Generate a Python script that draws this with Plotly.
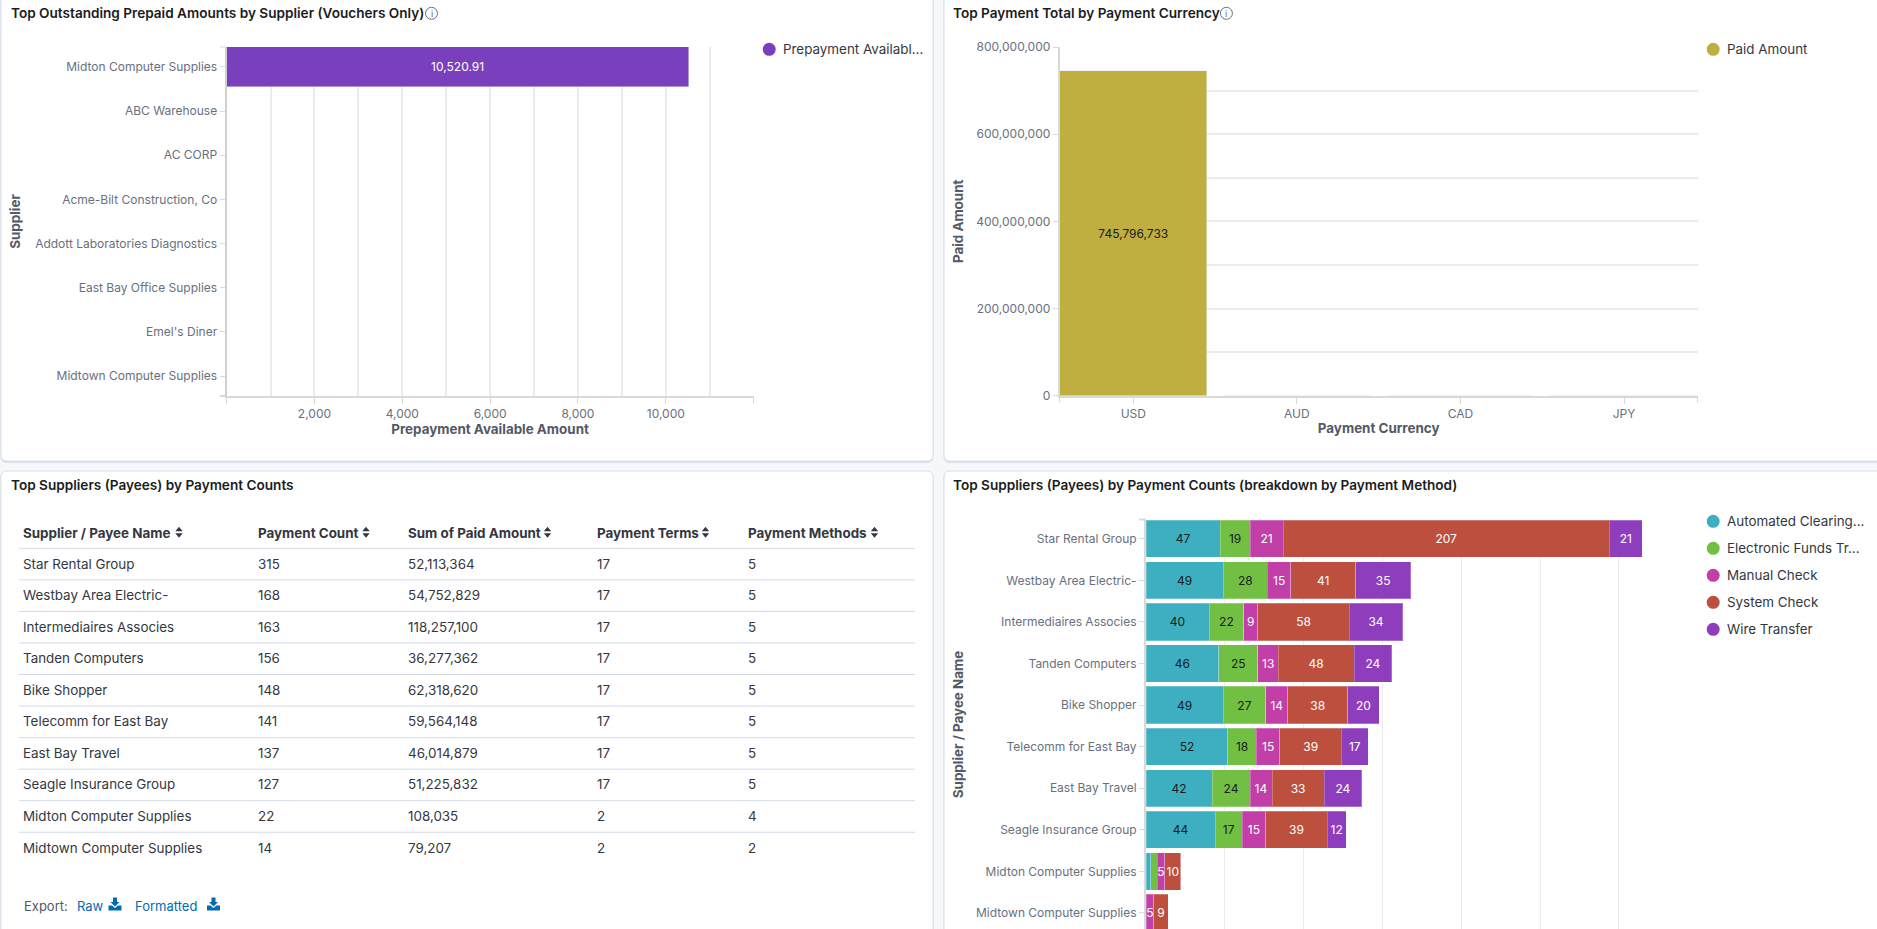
#%%
import plotly.graph_objects as go

W, H = 1877, 929
FONT = "Inter"
GRID = "#ebebeb"
AXIS = "#d9d9d9"
TICKTEXT = "#69707d"
DARK = "#1a1c21"
BLUE = "#006bb4"

#%%
# data
prepaid_suppliers = ["Midton Computer Supplies", "ABC Warehouse", "AC CORP", "Acme-Bilt Construction, Co",
                     "Addott Laboratories Diagnostics", "East Bay Office Supplies", "Emel's Diner",
                     "Midtown Computer Supplies"]
prepaid_amounts = [10520.91, 0, 0, 0, 0, 0, 0, 0]
prepaid_ticks = [0, 2000, 4000, 6000, 8000, 10000, 12000]
prepaid_ticktext = ["", "2,000", "4,000", "6,000", "8,000", "10,000", ""]

currencies = ["USD", "AUD", "CAD", "JPY"]
paid_amounts = [745796733, 0, 0, 0]
paid_ticks = [0, 200000000, 400000000, 600000000, 800000000]

payees = ["Star Rental Group", "Westbay Area Electric-", "Intermediaires Associes", "Tanden Computers",
          "Bike Shopper", "Telecomm for East Bay", "East Bay Travel", "Seagle Insurance Group",
          "Midton Computer Supplies", "Midtown Computer Supplies"]
payment_counts = [315, 168, 163, 156, 148, 141, 137, 127, 22, 14]
paid_sums = ["52,113,364", "54,752,829", "118,257,100", "36,277,362", "62,318,620", "59,564,148",
             "46,014,879", "51,225,832", "108,035", "79,207"]
payment_terms = [17, 17, 17, 17, 17, 17, 17, 17, 2, 2]
payment_method_counts = [5, 5, 5, 5, 5, 5, 5, 5, 4, 2]
table_headers = ["Supplier / Payee Name", "Payment Count", "Sum of Paid Amount", "Payment Terms", "Payment Methods"]

methods = ["Automated Clearing...", "Electronic Funds Tr...", "Manual Check", "System Check", "Wire Transfer"]
method_colors = ["#3eafc0", "#71c043", "#c13fa7", "#bd4f3e", "#8e3ebd"]
method_textcolors = [DARK, DARK, "white", "white", "white"]
ach = [47, 49, 40, 46, 49, 52, 42, 44, 3, 0]
eft = [19, 28, 22, 25, 27, 18, 24, 17, 4, 0]
manual = [21, 15, 9, 13, 14, 15, 14, 15, 5, 5]
system = [207, 41, 58, 48, 38, 39, 33, 39, 10, 9]
wire = [21, 35, 34, 24, 20, 17, 24, 12, 0, 0]
method_values = [ach, eft, manual, system, wire]

#%%
# pixel helpers, everything on the page is laid out from the top left
def fx(px):
    return px / W

def fy(px):
    return 1 - px / H

def xdomain(left, right):
    return [fx(left), fx(right)]

def ydomain(top, bottom):
    return [fy(bottom), fy(top)]

shapes = []
annotations = []

def line(x0, y0, x1, y1, color=AXIS, width=1, layer="below"):
    shapes.append(dict(type="line", xref="paper", yref="paper", x0=fx(x0), y0=fy(y0), x1=fx(x1), y1=fy(y1),
                       line=dict(color=color, width=width), layer=layer))

def poly(points, color):
    path = "M" + " L".join(f"{fx(a)},{fy(b)}" for a, b in points) + " Z"
    shapes.append(dict(type="path", xref="paper", yref="paper", path=path, fillcolor=color,
                       line=dict(width=0), layer="above"))

def label(text, x, y, size=13, color=DARK, weight=400, anchor="left"):
    annotations.append(dict(text=text, x=fx(x), y=fy(y), xref="paper", yref="paper", showarrow=False,
                            xanchor=anchor, yanchor="middle", borderpad=0,
                            font=dict(family=FONT, size=size, color=color, weight=weight)))

def card(x0, y0, x1, y1):
    r = 6 / W
    ry = 6 / H
    for off, fill, edge in [(1.5, "#dde1ea", "#dde1ea"), (0, "white", "#d8deea")]:
        a, b, c, d = fx(x0), fy(y0 + off), fx(x1), fy(y1 + off)
        path = (f"M{a + r},{b} L{c - r},{b} Q{c},{b} {c},{b - ry} L{c},{d + ry} Q{c},{d} {c - r},{d} "
                f"L{a + r},{d} Q{a},{d} {a},{d + ry} L{a},{b - ry} Q{a},{b} {a + r},{b} Z")
        shapes.append(dict(type="path", xref="paper", yref="paper", path=path, fillcolor=fill,
                           line=dict(color=edge, width=1), layer="below"))

def info_icon(x, y):
    shapes.append(dict(type="circle", xref="paper", yref="paper", x0=fx(x - 6), x1=fx(x + 6), y0=fy(y + 6),
                       y1=fy(y - 6), line=dict(color=TICKTEXT, width=1), layer="above"))
    label("i", x, y, size=9, color=TICKTEXT, anchor="center")

def legend_item(name, color, x, y):
    shapes.append(dict(type="circle", xref="paper", yref="paper", x0=fx(x - 6.5), x1=fx(x + 6.5), y0=fy(y + 6.5),
                       y1=fy(y - 6.5), fillcolor=color, line=dict(width=0), layer="above"))
    label(name, x + 13, y, size=13.4, color="#343741")

def sort_icon(x, y):
    poly([(x - 3.7, y - 1), (x + 3.7, y - 1), (x, y - 5.5)], "#343741")
    poly([(x - 3.7, y + 1), (x + 3.7, y + 1), (x, y + 5.5)], "#343741")

def download_icon(x, y):
    # arrow over a tray
    poly([(x - 2, y - 7), (x + 2, y - 7), (x + 2, y - 2.5), (x + 4.5, y - 2.5), (x, y + 2), (x - 4.5, y - 2.5),
          (x - 2, y - 2.5)], BLUE)
    poly([(x - 6.5, y + 1), (x - 3, y + 1), (x, y + 3.5), (x + 3, y + 1), (x + 6.5, y + 1), (x + 6.5, y + 6),
          (x - 6.5, y + 6)], BLUE)

card(1, -10, 933, 461)
card(944, -10, 1890, 461)
card(1, 471, 933, 960)
card(944, 471, 1890, 960)

label("Top Outstanding Prepaid Amounts by Supplier (Vouchers Only)", 9.5, 13.3, size=13.6, weight=600)
info_icon(431.5, 13.3)
label("Top Payment Total by Payment Currency", 952, 13.3, size=13.6, weight=600)
info_icon(1226.4, 13.3)
label("Top Suppliers (Payees) by Payment Counts", 9.5, 485.3, size=13.6, weight=600)
label("Top Suppliers (Payees) by Payment Counts (breakdown by Payment Method)", 952, 485.3, size=13.6, weight=600)

tick_font = dict(family=FONT, size=12, color=TICKTEXT)
title_font = dict(family=FONT, size=13.4, color="#535966", weight=700)

def axis(**kw):
    base = dict(tickfont=tick_font, ticks="outside", ticklen=6, tickcolor=AXIS, tickwidth=1, zeroline=False,
                showline=True, linecolor=AXIS, linewidth=2, automargin=False)
    base.update(kw)
    return base

fig = go.Figure()

#%%
# prepaid amounts
fig.add_trace(go.Bar(y=prepaid_suppliers, x=prepaid_amounts, orientation="h", width=0.905,
                     marker=dict(color="#7a3fbd"),
                     text=[f"{v:,.2f}" if v else "" for v in prepaid_amounts], textposition="inside",
                     insidetextanchor="middle", textangle=0, constraintext="none",
                     textfont=dict(family=FONT, size=12, color="white"), xaxis="x", yaxis="y", showlegend=False))
line(220, 47, 226.6, 47)
line(220, 396, 226.6, 396, width=2)
legend_item("Prepayment Availabl...", "#7a3fbd", 769.2, 49.3)

#%%
# paid amount by currency
fig.add_trace(go.Bar(x=currencies, y=paid_amounts, width=0.9, marker=dict(color="#bfae40"),
                     text=[f"{v:,}" if v else "" for v in paid_amounts], textposition="inside",
                     insidetextanchor="middle", textangle=0, constraintext="none",
                     textfont=dict(family=FONT, size=12, color=DARK), xaxis="x2", yaxis="y2", showlegend=False))
line(1059.7, 396, 1059.7, 403)
line(1697.6, 396, 1697.6, 403)
legend_item("Paid Amount", "#bfae40", 1713.2, 49.3)

#%%
# payment method breakdown
for name, vals, color, tcolor in zip(methods, method_values, method_colors, method_textcolors):
    fig.add_trace(go.Bar(y=payees, x=vals, name=name, orientation="h", width=0.896,
                         marker=dict(color=color, line=dict(color="rgba(255,255,255,0.25)", width=1)),
                         text=[str(v) if v >= 5 else "" for v in vals], textposition="inside",
                         insidetextanchor="middle", textangle=0, constraintext="none",
                         textfont=dict(family=FONT, size=12, color=tcolor), xaxis="x3", yaxis="y3",
                         showlegend=False))
line(1139, 519.5, 1146, 519.5, width=2)
for ii, name in enumerate(methods):
    legend_item(name, method_colors[ii], 1713.2, 521.3 + 27 * ii)

#%%
# table
row_h = 31.55
header_bottom = 548.3
fig.add_trace(go.Table(
    domain=dict(x=xdomain(15, 915), y=ydomain(516.5, 885)),
    columnwidth=[235, 150, 189, 151, 175],
    header=dict(values=[f"<b>{hh}</b>" for hh in table_headers], height=34, align="left",
                fill=dict(color="rgba(0,0,0,0)"), line=dict(width=0),
                font=dict(family=FONT, size=13.4, color="#343741")),
    cells=dict(values=[payees, payment_counts, paid_sums, payment_terms, payment_method_counts], height=row_h,
               align="left", fill=dict(color="rgba(0,0,0,0)"), line=dict(width=0),
               font=dict(family=FONT, size=13.4, color="#343741")),
))
for ii in range(len(payees)):
    line(19, header_bottom + ii * row_h, 915, header_bottom + ii * row_h, color="#d3dae6", width=1, layer="above")
for xx in [179, 366, 547.5, 705.5, 874.5]:
    sort_icon(xx, 532.3)

label("Export:", 23.3, 906, color="#535966")
label("Raw", 76, 906, color=BLUE)
download_icon(115, 904.5)
label("Formatted", 134, 906, color=BLUE)
download_icon(213.5, 904.5)

#%%
fig.update_layout(
    width=W, height=H, margin=dict(l=0, r=0, t=0, b=0), paper_bgcolor="#f5f7fa", plot_bgcolor="rgba(0,0,0,0)",
    barmode="stack", font=dict(family=FONT), shapes=shapes, annotations=annotations,
    xaxis=axis(domain=xdomain(226.6, 753.6), range=[0, 12000], tickvals=prepaid_ticks, ticktext=prepaid_ticktext,
               showgrid=True, gridcolor=GRID, gridwidth=1.5, anchor="y",
               minor=dict(dtick=1000, tick0=0, showgrid=True, gridcolor=GRID, gridwidth=1.5, ticks=""),
               title=dict(text="Prepayment Available Amount", font=title_font, standoff=4)),
    yaxis=axis(domain=ydomain(47, 396), type="category", categoryorder="array", categoryarray=prepaid_suppliers,
               range=[7.45, -0.45], ticklen=5, showgrid=False, anchor="x", linecolor="#d0d0d0",
               title=dict(text="Supplier", font=title_font, standoff=11)),
    xaxis2=axis(domain=xdomain(1059.7, 1697.6), type="category", categoryorder="array", categoryarray=currencies,
                range=[-0.45, 3.45], showgrid=False, anchor="y2",
                title=dict(text="Payment Currency", font=title_font, standoff=4)),
    yaxis2=axis(domain=ydomain(47, 395.7), range=[0, 800000000], tickvals=paid_ticks, tickformat=",", ticklen=5,
                showgrid=True, gridcolor=GRID, gridwidth=1.5, anchor="x2",
                minor=dict(dtick=100000000, tick0=0, showgrid=True, gridcolor=GRID, gridwidth=1.5, ticks=""),
                title=dict(text="Paid Amount", font=title_font, standoff=10)),
    xaxis3=axis(domain=xdomain(1146, 1697.6), range=[0, 350], dtick=50, showgrid=True, gridcolor=GRID, gridwidth=1,
                showline=False, showticklabels=False, ticks="", anchor="y3"),
    yaxis3=axis(domain=ydomain(520, 929), type="category", categoryorder="array", categoryarray=payees,
                range=[9.385, -0.45], ticklen=5, showgrid=False, anchor="x3",
                title=dict(text="Supplier / Payee Name", font=title_font, standoff=9)),
)

# the default page margin would push the plot off the 1877 wide window
fig.write_html("out.html", config={"displayModeBar": False}, post_script="document.body.style.margin = '0';")
